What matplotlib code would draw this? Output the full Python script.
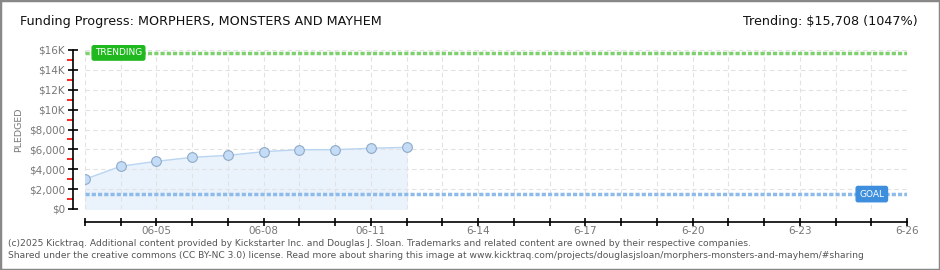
import matplotlib.pyplot as plt
import numpy as np
from matplotlib.patches import Rectangle

# data
dates = np.array(["2025-06-03", "2025-06-04", "2025-06-05", "2025-06-06", "2025-06-07",
                  "2025-06-08", "2025-06-09", "2025-06-10", "2025-06-11", "2025-06-12"],
                 dtype="datetime64[D]")
pledged = [3000, 4300, 4800, 5200, 5400, 5770, 5970, 5970, 6110, 6210]
goal = 1500
trending = 15708
trending_pct = 1047

axis_start = np.datetime64("2025-06-03")
axis_end = np.datetime64("2025-06-26")
label_dates = np.array(["2025-06-05", "2025-06-08", "2025-06-11", "2025-06-14",
                        "2025-06-17", "2025-06-20", "2025-06-23", "2025-06-26"],
                       dtype="datetime64[D]")
label_text = ["06-05", "06-08", "06-11", "6-14", "6-17", "6-20", "6-23", "6-26"]
y_ticks = [0, 2000, 4000, 6000, 8000, 10000, 12000, 14000, 16000]
y_labels = ["$0", "$2,000", "$4,000", "$6,000", "$8,000", "$10K", "$12K", "$14K", "$16K"]

fig = plt.figure(figsize=(9.4, 2.7), dpi=100)
ax = fig.add_axes([85 / 940, 61 / 270, 822 / 940, 159 / 270])

# background grid
all_days = np.arange(axis_start, axis_end + 1)
ax.set_xlim(axis_start, axis_end)
ax.set_ylim(0, 16000)
ax.set_xticks(all_days)
ax.set_xticklabels([label_text[list(label_dates).index(d)] if d in label_dates else "" for d in all_days])
ax.set_yticks(y_ticks)
ax.set_yticklabels(y_labels)
ax.set_yticks(np.arange(1000, 16000, 2000), minor=True)
ax.grid(True, which="major", color="#e2e2e2", linestyle=(0, (4, 3)), linewidth=0.8)

# pledged series
ax.fill_between(dates, pledged, 0, color="#eaf2fc", zorder=1)
ax.plot(dates, pledged, color="#b9d5f2", linewidth=1, zorder=2)
ax.plot(dates, pledged, "o", markersize=7, markerfacecolor="#c4dcf6",
        markeredgecolor="#8fa9c6", markeredgewidth=0.8, zorder=3)

# trending & goal lines
ax.axhline(trending, color="#7fd06f", linestyle=(0, (1.2, 0.6)), linewidth=2.5, zorder=2)
ax.axhline(goal, color="#8fbbea", linestyle=(0, (1.2, 0.6)), linewidth=2.5, zorder=2)
ax.text(0.012, trending, "TRENDING", transform=ax.get_yaxis_transform(),
        color="white", fontsize=6.5, va="center", ha="left", zorder=5,
        bbox=dict(boxstyle="round,pad=0.3,rounding_size=0.2", fc="#1fb81f", ec="#1fb81f"))
ax.text(0.942, goal, "GOAL", transform=ax.get_yaxis_transform(),
        color="white", fontsize=6.5, va="center", ha="left", zorder=5,
        bbox=dict(boxstyle="round,pad=0.35,rounding_size=0.2", fc="#3e8ede", ec="#3e8ede"))

# axes styling
for side in ["top", "right"]:
    ax.spines[side].set_visible(False)
ax.spines["left"].set_position(("outward", 9))
ax.spines["bottom"].set_position(("outward", 9))
ax.spines["left"].set_linewidth(1.2)
ax.spines["bottom"].set_linewidth(1.2)
ax.tick_params(axis="y", which="major", direction="inout", length=7, width=1.2,
               labelsize=7.5, labelcolor="#777777", pad=2)
ax.tick_params(axis="y", which="minor", direction="out", length=4, width=1.2, color="red")
ax.tick_params(axis="x", which="major", direction="inout", length=6, width=1.2,
               labelsize=7.5, labelcolor="#777777", pad=0)
ax.set_ylabel("PLEDGED", fontsize=6.8, color="#777777", labelpad=2)
ax.yaxis.set_label_coords(-62 / 822, 0.5)

# header & footer
fig.text(20 / 940, 1 - 22 / 270, "Funding Progress: MORPHERS, MONSTERS AND MAYHEM",
         fontsize=9.2, va="center", ha="left", color="#111111")
fig.text(918 / 940, 1 - 22 / 270, f"Trending: ${trending:,} ({trending_pct}%)",
         fontsize=9.2, va="center", ha="right", color="#111111")
fig.text(8 / 940, 1 - 243 / 270,
         "(c)2025 Kicktraq. Additional content provided by Kickstarter Inc. and Douglas J. Sloan. "
         "Trademarks and related content are owned by their respective companies.",
         fontsize=6.6, va="center", ha="left", color="#555555")
fig.text(8 / 940, 1 - 256 / 270,
         "Shared under the creative commons (CC BY-NC 3.0) license. Read more about sharing this image at "
         "www.kicktraq.com/projects/douglasjsloan/morphers-monsters-and-mayhem/#sharing",
         fontsize=6.6, va="center", ha="left", color="#555555")

fig.patches.append(Rectangle((0, 0), 1, 1, transform=fig.transFigure, fill=False,
                             edgecolor="#888888", linewidth=2.5))

fig.savefig("out.png", dpi=100)
